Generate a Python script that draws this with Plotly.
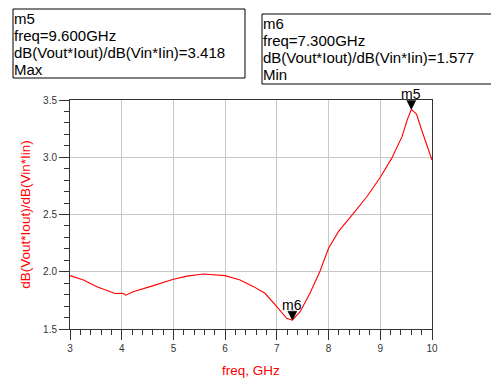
import plotly.graph_objects as go

# ---- data ----
freq = [3.0, 3.26, 3.52, 3.77, 3.87, 4.0, 4.04, 4.08, 4.15, 4.22, 4.55, 5.0, 5.26, 5.58,
        6.0, 6.29, 6.55, 6.77, 7.0, 7.19, 7.3, 7.45, 7.64, 7.83, 8.0, 8.19, 8.48, 8.74,
        9.0, 9.22, 9.42, 9.52, 9.6, 9.7, 9.8, 9.9, 10.0]
ratio = [1.966, 1.928, 1.87, 1.826, 1.81, 1.812, 1.808, 1.795, 1.81, 1.826, 1.87, 1.934, 1.962, 1.98,
         1.966, 1.928, 1.87, 1.812, 1.695, 1.593, 1.577, 1.651, 1.812, 2.0, 2.205, 2.35, 2.51, 2.655,
         2.825, 2.99, 3.18, 3.325, 3.418, 3.378, 3.238, 3.107, 2.976]
x_ticks = [3, 4, 5, 6, 7, 8, 9, 10]
y_ticks = [1.5, 2.0, 2.5, 3.0, 3.5]
y_label = "dB(Vout*Iout)/dB(Vin*Iin)"
x_label = "freq, GHz"

FONT = "Liberation Sans, Arial, sans-serif"
RED = "#ff0000"

W, H = 491, 378
ML, MR, MT, MB = 70, 59, 100, 49
PW, PH = W - ML - MR, H - MT - MB


def px2paper(px, py):
    return (px - ML) / PW, (H - MB - py) / PH


i_max = ratio.index(max(ratio))
i_min = ratio.index(min(ratio))

fig = go.Figure()
fig.add_trace(go.Scatter(x=freq, y=ratio, mode="lines",
                         line=dict(color=RED, width=1.1), showlegend=False,
                         hoverinfo="skip"))

shapes = []
annotations = []

# marker triangles + labels
for name, idx in (("m5", i_max), ("m6", i_min)):
    shapes.append(dict(type="path", xref="x", yref="y",
                       xsizemode="pixel", ysizemode="pixel",
                       xanchor=freq[idx], yanchor=ratio[idx],
                       path="M -4.5,9 L 4.5,9 L 0,0 Z",
                       fillcolor="black", line=dict(color="black", width=0.5)))
    annotations.append(dict(x=freq[idx], y=ratio[idx], xref="x", yref="y",
                            text=name, showarrow=False, yanchor="bottom",
                            yshift=5, font=dict(family=FONT, size=14, color="black")))

# readout boxes (pixel layout: box left, top, right, bottom; text left; first line centre)
boxes = [
    ("m5", i_max, "Max", (13, 9, 245, 78), 14, 18.6),
    ("m6", i_min, "Min", (262, 14, 495, 84), 263, 23.4),
]
LINE = 16.9
for name, idx, kind, (bl, bt, br, bb), tx, ty in boxes:
    x0, y1 = px2paper(bl, bt)
    x1, y0 = px2paper(br, bb)
    shapes.append(dict(type="rect", xref="paper", yref="paper", x0=x0, x1=x1, y0=y0, y1=y1,
                       line=dict(color="black", width=1), fillcolor="rgba(0,0,0,0)"))
    lines = [name, f"freq={freq[idx]:.3f}GHz", f"{y_label}={ratio[idx]:.3f}", kind]
    for k, t in enumerate(lines):
        ax_, ay_ = px2paper(tx, ty + k * LINE)
        annotations.append(dict(x=ax_, y=ay_, xref="paper", yref="paper", text=t,
                                showarrow=False, xanchor="left", yanchor="middle",
                                borderpad=0, borderwidth=0,
                                font=dict(family=FONT, size=15, color="black")))

axis_common = dict(showline=True, linecolor="#333333", linewidth=1, mirror=True,
                   ticks="outside", ticklen=10, tickcolor="#333333", tickwidth=1,
                   showgrid=True, gridcolor="#c8c8c8", gridwidth=1, zeroline=False,
                   automargin=False,
                   tickfont=dict(family=FONT, size=10, color="#333333"))

fig.update_layout(
    width=W, height=H,
    margin=dict(l=ML, r=MR, t=MT, b=MB, autoexpand=False),
    paper_bgcolor="white", plot_bgcolor="white",
    font=dict(family=FONT),
    xaxis=dict(range=[3, 10], tickvals=x_ticks, ticktext=[str(v) for v in x_ticks],
               minor=dict(dtick=0.2, ticks="outside", ticklen=5, tickcolor="#333333", showgrid=False),
               title=dict(text=x_label, font=dict(family=FONT, size=13.5, color=RED), standoff=12),
               **axis_common),
    yaxis=dict(range=[1.5, 3.5], tickvals=y_ticks, ticktext=[f"{v:.1f}" for v in y_ticks],
               minor=dict(dtick=0.1, ticks="outside", ticklen=5, tickcolor="#333333", showgrid=False),
               title=dict(text=y_label, font=dict(family=FONT, size=13.5, color=RED), standoff=9),
               **axis_common),
    shapes=shapes,
    annotations=annotations,
)

fig.write_html("out.html")
